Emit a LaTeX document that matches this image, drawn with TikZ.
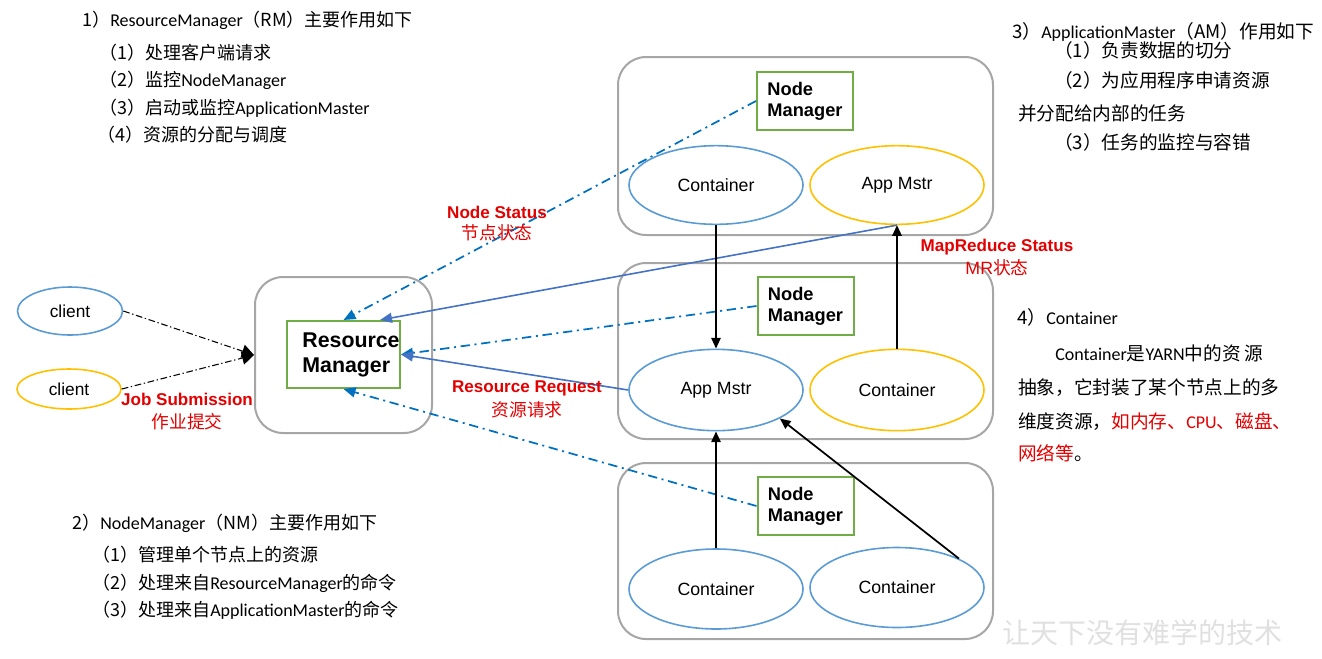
\documentclass[tikz,border=0pt]{standalone}
\usepackage{fontspec}
\setmainfont{Liberation Sans}
\newfontfamily\cjk{Noto Sans CJK SC}
\newfontfamily\latf{Carlito}
\newcommand\LatSeg[1]{{\latf\fontsize{13.5}{16}\selectfont #1}}
\usetikzlibrary{arrows.meta,calc,shapes.geometric}
\definecolor{boxgray}{RGB}{166,166,166}
\definecolor{mgreen}{RGB}{112,173,71}
\definecolor{eblue}{RGB}{91,155,213}
\definecolor{eorange}{RGB}{255,192,0}
\definecolor{dblue}{RGB}{0,112,192}
\definecolor{sblue}{RGB}{68,114,196}
\definecolor{tred}{RGB}{226,0,0}
\begin{document}
\begin{tikzpicture}[x=0.75pt,y=-0.75pt,
  grpbox/.style={draw=boxgray,line width=1.5pt,rounded corners=21pt,minimum width=281.25pt,minimum height=132pt,inner sep=0},
  mgrbox/.style={draw=mgreen,line width=1.5pt,minimum width=72pt,minimum height=43.5pt,inner sep=0,font=\bfseries\fontsize{13.7}{15.8}\selectfont,align=left},
  blueell/.style={ellipse,draw=eblue,line width=1.2pt,minimum width=130.5pt,minimum height=59pt,inner sep=0,font=\fontsize{13.3}{16}\selectfont},
  orangeell/.style={blueell,draw=eorange},
  statusflow/.style={draw=dblue,line width=1.3pt,dash pattern=on 7pt off 3.5pt on 1.5pt off 3.5pt,-{Triangle[length=9pt,width=7.5pt]}},
  reqflow/.style={draw=sblue,line width=1.2pt,-{Triangle[length=9pt,width=7.5pt]}},
  ctrlflow/.style={draw=black,line width=1.3pt,-{Triangle[length=8pt,width=7pt]}},
  jobflow/.style={draw=black,line width=0.8pt,dash pattern=on 5pt off 2pt on 1pt off 2pt,-{Triangle[length=9pt,width=10pt]}},
  redlab/.style={text=tred,inner sep=0,font=\bfseries\fontsize{12.8}{15}\selectfont},
  redcjk/.style={text=tred,inner sep=0,font=\cjk\fontsize{13.3}{15}\selectfont},
  note/.style={anchor=west,inner sep=0,font=\cjk\fontsize{13.5}{16}\selectfont},
  noteb/.style={anchor=west,inner sep=0,font=\cjk\fontsize{14}{16}\selectfont}
]
\useasboundingbox (0,0) rectangle (1322,658);

% group boxes
\node[grpbox,minimum width=132.75pt,minimum height=117pt] (rmbox) at (343.5,355) {};
\node[grpbox,minimum height=133.5pt] (box1) at (805.5,146) {};
\node[grpbox] (box2) at (805.5,351) {};
\node[grpbox] (box3) at (805.5,551) {};

% resource manager
\node[draw=mgreen,line width=1.5pt,minimum width=84.75pt,minimum height=50.25pt,inner sep=0] (rm) at (343.5,354.5) {};
\node[align=left,inner sep=0,font=\bfseries\fontsize{16}{18.75}\selectfont] (rmtext) at (351,355) {Resource\\Manager};

% node managers
\node[mgrbox] (nm1) at (805,101) {Node\\Manager};
\node[mgrbox] (nm2) at (805.5,306) {Node\\Manager};
\node[mgrbox] (nm3) at (805.5,506) {Node\\Manager};

% ellipses
\node[blueell] (c1) at (716,185) {Container};
\node[orangeell] (am1) at (897,185) {App Mstr};
\node[blueell,minimum height=61pt] (am2) at (716,390) {App Mstr};
\node[orangeell,minimum height=61pt] (c2) at (897,390) {Container};
\node[blueell,minimum height=60pt] (c3) at (716,589) {Container};
\node[blueell,minimum height=60pt] (c4) at (897,587.5) {Container};

% clients
\node[ellipse,draw=eblue,line width=1.2pt,minimum width=78.75pt,minimum height=36pt,inner sep=0,font=\fontsize{13}{15}\selectfont] (cl1) at (70,311) {client};
\node[ellipse,draw=eorange,line width=1.2pt,minimum width=78pt,minimum height=30pt,inner sep=0,font=\fontsize{13}{15}\selectfont] (cl2) at (69,389) {client};

% connectors
\draw[jobflow] (cl1.east) -- (rmbox.west);
\draw[jobflow] (cl2.east) -- (rmbox.west);
\draw[statusflow] (nm1.west) -- (rm.north);
\draw[statusflow] (nm2.west) -- (rm.east);
\draw[statusflow] (nm3.west) -- (rm.south);
\draw[reqflow] (am1.south) -- ($(rm.north)+(36.5,0)$);
\draw[reqflow] (am2.west) -- (rm.east);
\draw[ctrlflow] (c1.south) -- (am2.north);
\draw[ctrlflow] (c2.north) -- (am1.south);
\draw[ctrlflow] (c3.north) -- (am2.south);
\draw[ctrlflow] (c4.25) -- (am2.-24);

% red labels
\node[redlab] (ns1) at (497,212) {Node Status};
\node[redcjk] (ns2) at (497,233) {节点状态};
\node[redlab] (rr1) at (527,388) {Resource Request};
\node[redcjk] (rr2) at (527,410) {资源请求};
\node[redlab] (mr1) at (997,247) {MapReduce Status};
\node[redcjk] (mr2) at (997,268) {\fontspec{Liberation Sans}MR\cjk 状态};
\node[redlab] (js1) at (187,399) {Job Submission};
\node[redcjk] (js2) at (187,422) {作业提交};

% notes: RM
\node[note] (n1) at (82,20) {1）\LatSeg{ResourceManager}（RM）主要作用如下};
\node[note] (n1a) at (99,53) {（1）处理客户端请求};
\node[note] (n1b) at (99,80) {（2）监控\LatSeg{NodeManager}};
\node[note] (n1c) at (99,108) {（3）启动或监控\LatSeg{ApplicationMaster}};
\node[note] (n1d) at (97,135) {（4）资源的分配与调度};

% notes: AM
\node[noteb] (n3) at (1012,32) {3）\LatSeg{ApplicationMaster}（AM）作用如下};
\node[noteb] (n3a) at (1054,50) {（1）负责数据的切分};
\node[noteb] (n3b) at (1054,80) {（2）为应用程序申请资源};
\node[noteb] (n3c) at (1018,113) {并分配给内部的任务};
\node[noteb] (n3d) at (1054,142) {（3）任务的监控与容错};

% notes: Container
\node[noteb] (n4) at (1017,317) {4）\LatSeg{Container}};
\node[noteb] (n4a) at (1055,353) {\LatSeg{Container}是\LatSeg{YARN}中的资 源};
\node[noteb] (n4b) at (1018,388) {抽象，它封装了某个节点上的多};
\node[noteb] (n4c) at (1018,422) {维度资源，\textcolor{tred}{如内存、\LatSeg{CPU}、磁盘、}};
\node[noteb] (n4d) at (1018,453) {\textcolor{tred}{网络等}。};

% notes: NM
\node[note] (n2) at (72,523) {2）\LatSeg{NodeManager}（NM）主要作用如下};
\node[note] (n2a) at (92,555) {（1）管理单个节点上的资源};
\node[note] (n2b) at (92,583) {（2）处理来自\LatSeg{ResourceManager}的命令};
\node[note] (n2c) at (92,610) {（3）处理来自\LatSeg{ApplicationMaster}的命令};

% watermark
\node[inner sep=0,text=black!12,font=\cjk\fontsize{21}{24}\selectfont] (wm) at (1142,633) {让天下没有难学的技术};
\end{tikzpicture}
\end{document}
